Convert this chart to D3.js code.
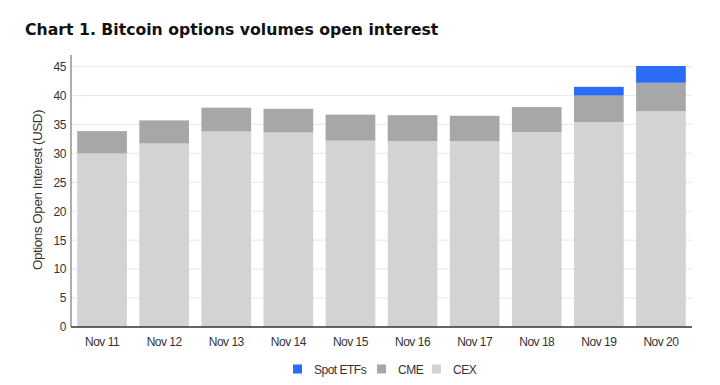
<!DOCTYPE html>
<html>
<head>
<meta charset="utf-8">
<script src="https://cdn.jsdelivr.net/npm/d3@7"></script>
<style>
  body { margin: 0; background: #fff; }
  text { font-family: "Liberation Sans", Arial, sans-serif; }
</style>
</head>
<body>
<div id="chart"></div>
<script>
// chart data
var days = ["Nov 11", "Nov 12", "Nov 13", "Nov 14", "Nov 15", "Nov 16", "Nov 17", "Nov 18", "Nov 19", "Nov 20"];
var cex = [30.0, 31.7, 33.8, 33.6, 32.2, 32.1, 32.1, 33.7, 35.4, 37.3];
var cme = [3.85, 4.0, 4.1, 4.1, 4.5, 4.5, 4.4, 4.3, 4.6, 4.9];
var spotEtfs = [0, 0, 0, 0, 0, 0, 0, 0, 1.5, 2.9];
var yTicks = [0, 5, 10, 15, 20, 25, 30, 35, 40, 45];

var svgWidth = 720;
var svgHeight = 385;

var margin = { top: 55, right: 28, bottom: 58, left: 71 };
var width = svgWidth - margin.left - margin.right;
var height = svgHeight - margin.top - margin.bottom;

var svg = d3.select("#chart")
  .append("svg")
  .attr("width", svgWidth)
  .attr("height", svgHeight);

// title
svg.append("text")
  .attr("x", 25)
  .attr("y", 35)
  .style("font-family", "'DejaVu Sans', Verdana, sans-serif")
  .style("font-weight", "bold")
  .style("font-size", "15.7px")
  .attr("fill", "#111")
  .text("Chart 1. Bitcoin options volumes open interest");

var chartGroup = svg.append("g")
  .attr("transform", `translate(${margin.left}, ${margin.top})`);

var series = ["CEX", "CME", "Spot ETFs"];
var colors = { "CEX": "#d3d3d3", "CME": "#a7a7a7", "Spot ETFs": "#2b6cf6" };

var table = days.map(function(d, i) {
  return { day: d, "CEX": cex[i], "CME": cme[i], "Spot ETFs": spotEtfs[i] };
});

var stacked = d3.stack().keys(series)(table);

var xScale = d3.scaleBand()
  .domain(days)
  .range([0, width])
  .paddingInner(0.2)
  .paddingOuter(0.1);

var yScale = d3.scaleLinear()
  .domain([0, 47])
  .range([height, 0]);

// gridlines
chartGroup.append("g")
  .selectAll("line")
  .data(yTicks.filter(d => d > 0))
  .enter()
  .append("line")
  .attr("x1", 0)
  .attr("x2", width)
  .attr("y1", d => yScale(d))
  .attr("y2", d => yScale(d))
  .attr("stroke", "#ebebeb")
  .attr("stroke-width", 1.2);

// bars
chartGroup.append("g")
  .selectAll("g")
  .data(stacked)
  .enter()
  .append("g")
  .attr("fill", d => colors[d.key])
  .selectAll("rect")
  .data(d => d)
  .enter()
  .append("rect")
  .attr("x", d => xScale(d.data.day))
  .attr("width", xScale.bandwidth())
  .attr("y", d => yScale(d[1]))
  .attr("height", d => yScale(d[0]) - yScale(d[1]));

// y axis
var leftAxis = d3.axisLeft(yScale)
  .tickValues(yTicks)
  .tickSize(0)
  .tickPadding(5);

var yAxis = chartGroup.append("g")
  .call(leftAxis);
yAxis.select(".domain").remove();
yAxis.selectAll("text")
  .style("font-family", "'Liberation Sans', Arial, sans-serif")
  .style("font-size", "12px")
  .style("letter-spacing", "-0.4px")
  .attr("fill", "#333");

chartGroup.append("line")
  .attr("x1", 0).attr("x2", 0)
  .attr("y1", 0).attr("y2", height)
  .attr("stroke", "#777")
  .attr("stroke-width", 1.2);

// zero line
chartGroup.append("line")
  .attr("x1", 0).attr("x2", width)
  .attr("y1", height).attr("y2", height)
  .attr("stroke", "#333")
  .attr("stroke-width", 1.5);

// x axis labels
var bottomAxis = d3.axisBottom(xScale)
  .tickSize(0)
  .tickPadding(10);

var xAxis = chartGroup.append("g")
  .attr("transform", `translate(0, ${height})`)
  .call(bottomAxis);
xAxis.select(".domain").remove();
xAxis.selectAll("text")
  .style("font-family", "'Liberation Sans', Arial, sans-serif")
  .style("font-size", "12px")
  .style("letter-spacing", "-0.5px")
  .attr("fill", "#333");

// y axis title
svg.append("text")
  .attr("transform", "rotate(-90)")
  .attr("x", -190)
  .attr("y", 42)
  .style("text-anchor", "middle")
  .style("font-size", "13.5px")
  .style("letter-spacing", "-0.5px")
  .attr("fill", "#333")
  .text("Options Open Interest (USD)");

// legend
var legendItems = [
  { name: "Spot ETFs", x: 293 },
  { name: "CME", x: 377 },
  { name: "CEX", x: 432 }
];
var legend = svg.append("g")
  .attr("transform", "translate(0, 369)");

legend.selectAll("rect")
  .data(legendItems)
  .enter()
  .append("rect")
  .attr("x", d => d.x)
  .attr("y", -4.5)
  .attr("width", 9)
  .attr("height", 9)
  .attr("fill", d => colors[d.name]);

legend.selectAll("text")
  .data(legendItems)
  .enter()
  .append("text")
  .attr("x", d => d.x + 21)
  .attr("y", 4.5)
  .style("font-size", "12px")
  .style("letter-spacing", "-0.5px")
  .attr("fill", "#333")
  .text(d => d.name);
</script>
</body>
</html>
